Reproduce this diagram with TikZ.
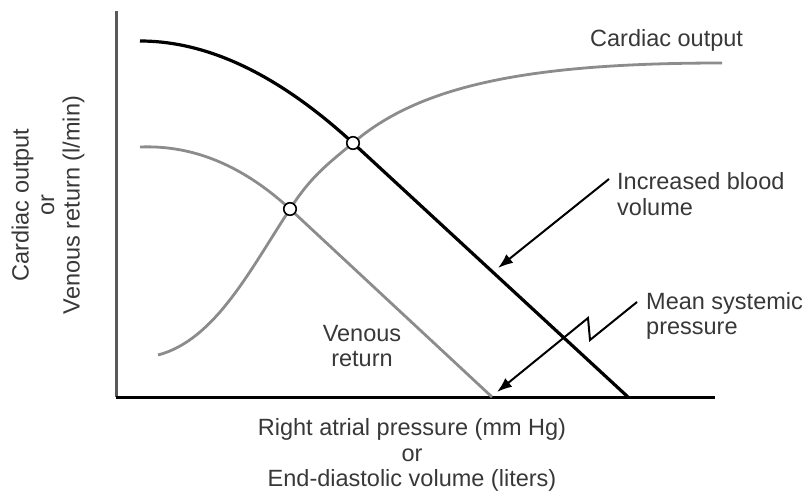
\documentclass[tikz,border=0pt]{standalone}
\usepackage{fontspec}
\setmainfont{Liberation Sans}
\usetikzlibrary{arrows.meta}

\tikzset{
  curve/.style={line width=2.8pt, draw=black!45},
  shiftcurve/.style={line width=3.2pt, draw=black},
  crossing/.style={circle, draw=black, fill=white, line width=1.6pt, inner sep=0pt, minimum size=12.5pt},
  labeltext/.style={font=\fontsize{23.5}{25.5}\selectfont, text=black!78, inner sep=0pt},
  pointer/.style={-{Latex[length=15pt,width=11pt]}, line width=2pt, line join=miter},
}

\begin{document}
\begin{tikzpicture}[x=1pt,y=-1pt]
\useasboundingbox (0,0) rectangle (808,491);

\coordinate (O) at (116,397);
\coordinate (Ytop) at (116,11);
\coordinate (Xend) at (715,397);
\coordinate (B0) at (140,41);
\coordinate (B1) at (628,397);
\coordinate (V0) at (140,147);
\coordinate (V1) at (492,397);
\coordinate (C0) at (158,355);
\coordinate (C1) at (722,63);
\coordinate (p) at (290,209);
\coordinate (q) at (353,143);

\draw [line width=3pt, draw=black!65] (O) -- (Ytop);
\draw [line width=3pt] (O) -- (Xend);

\draw [curve] (V0) .. controls (190,145) and (240,163) .. (p) -- (V1);
\draw [curve] (C0) .. controls (215,340) and (250,270) .. (p) .. controls (310,178) and (325,166) .. (q) .. controls (420,85) and (530,63) .. (C1);
\draw [shiftcurve] (B0) .. controls (220,41) and (293,88) .. (q) -- (B1);

\node [crossing] (P) at (p) {};
\node [crossing] (Q) at (q) {};

\node [labeltext, anchor=west] (co) at (590,40) {Cardiac output};
\node [labeltext, anchor=west, align=left] (ibv) at (617,194) {Increased blood\\volume};
\node [labeltext, anchor=west, align=left] (msp) at (646,316) {Mean systemic\\pressure};
\node [labeltext, align=center] (vr) at (362,346) {Venous\\return};
\node [labeltext, align=center] (xl) at (412,455) {Right atrial pressure (mm Hg)\\or\\End-diastolic volume (liters)};
\node [labeltext, align=center, rotate=90] (yl) at (48,205) {Cardiac output\\or\\Venous return (l/min)};

\coordinate (a1) at (609,179);
\coordinate (a2) at (498,268);
\coordinate (m1) at (637,302);
\coordinate (m2) at (590,340);
\coordinate (m3) at (588,318);
\coordinate (m4) at (497,392);

\draw [pointer] (a1) -- (a2);
\draw [pointer] (m1) -- (m2) -- (m3) -- (m4);
\end{tikzpicture}
\end{document}
